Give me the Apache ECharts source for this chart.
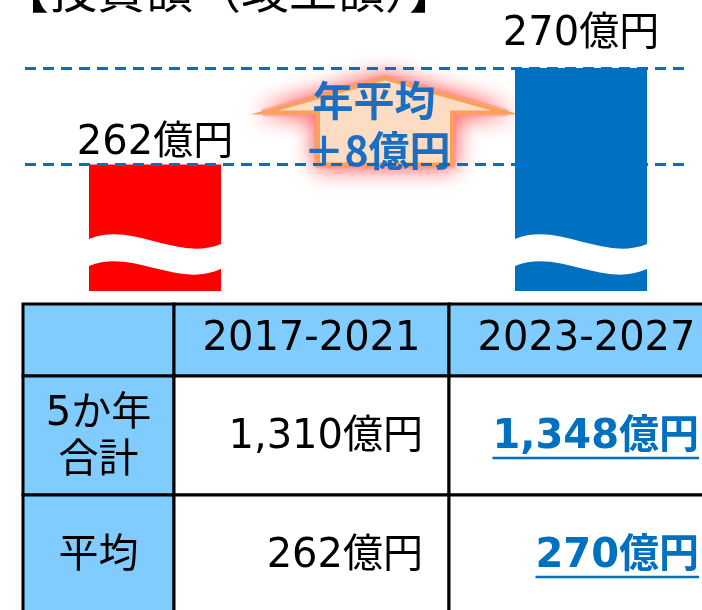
<!DOCTYPE html>
<html>
<head>
<meta charset="utf-8">
<script src="https://cdn.jsdelivr.net/npm/echarts@6/dist/echarts.min.js"></script>
<style>
  html, body { margin: 0; padding: 0; background: #fff; }
  #chart { width: 702px; height: 610px; }
</style>
</head>
<body>
<div id="chart"></div>
<script>
// chart data
const titleText = '【投資額（竣工額）】';
const periods = ['2017-2021', '', '2023-2027'];
const averages = [262, '-', 270];
const barLabels = ['262億円', '', '270億円'];
const arrowLines = ['年平均', '＋8億円'];

// table data
const tableHeader = ['', '2017-2021', '2023-2027'];
const rowLabels = [['5か年', '合計'], ['平均']];
const pastValues = ['1,310億円', '262億円'];
const futureValues = ['1,348億円', '270億円'];

const BLUE = '#0070C0';
const barColors = ['#FF0000', null, BLUE];
const labelGap = [1, 0, 13];
const FONT = '"DejaVu Sans", "Noto Sans CJK JP", sans-serif';
const CJK = '"Noto Sans CJK JP", sans-serif';
const Y_MIN = 251.5;
const Y_MAX = 270;
const BAR_W = 132;

const chart = echarts.init(document.getElementById('chart'));

// wavy white band near the bottom of each bar (broken axis marker)
function renderWave(params, api) {
  const base = api.coord([api.value(0), Y_MIN]);
  const x0 = base[0] - BAR_W / 2;
  const yb = base[1];
  const w = BAR_W;
  const p = (dx, dy) => (x0 + dx).toFixed(1) + ' ' + (yb + dy).toFixed(1);
  const d = 'M' + p(0, -52) +
    ' C' + p(w / 3, -70) + ' ' + p(2 * w / 3, -29) + ' ' + p(w, -47) +
    ' L' + p(w, -22) +
    ' C' + p(2 * w / 3, -2) + ' ' + p(w / 3, -43) + ' ' + p(0, -25) + ' Z';
  return { type: 'path', shape: { pathData: d }, style: { fill: '#fff' } };
}

// up arrow with "年平均 +8億円"
function renderArrow(params, api) {
  const base = api.coord([api.value(0), api.value(1)]);
  const cx = base[0] + 17;
  const by = base[1];
  const pts = [
    [cx - 67, by], [cx - 67, by - 52], [cx - 120, by - 52], [cx, by - 86],
    [cx + 120, by - 52], [cx + 67, by - 52], [cx + 67, by]
  ];
  const textStyle = {
    fill: '#1B6EC2', fontSize: 41, fontWeight: 'bold', fontFamily: CJK,
    align: 'center', verticalAlign: 'middle'
  };
  return {
    type: 'group',
    children: [
      {
        type: 'polygon',
        shape: { points: pts },
        style: {
          fill: '#FF9090', stroke: 'rgba(255,140,140,0.55)', lineWidth: 8,
          lineJoin: 'round', shadowBlur: 22, shadowColor: 'rgba(255,60,60,1)'
        }
      },
      {
        type: 'polygon',
        shape: { points: pts },
        style: { fill: '#FDDCC4', stroke: '#F9A15A', lineWidth: 4 }
      },
      { type: 'text', x: cx - 11, y: by - 64, style: Object.assign({ text: arrowLines[0] }, textStyle) },
      { type: 'text', x: cx - 8, y: by - 14, style: Object.assign({ text: arrowLines[1] }, textStyle) }
    ]
  };
}

// table built with graphic elements
const colX = [23, 174, 449, 724];
const rowY = [304, 376, 495, 624];
const HEAD_FILL = '#80CCFF';
const measure = document.createElement('canvas').getContext('2d');
const tableGraphics = [];

for (let r = 0; r < 3; r++) {
  for (let c = 0; c < 3; c++) {
    tableGraphics.push({
      type: 'rect',
      shape: { x: colX[c], y: rowY[r], width: colX[c + 1] - colX[c], height: rowY[r + 1] - rowY[r] },
      style: { fill: (r === 0 || c === 0) ? HEAD_FILL : '#fff', stroke: '#000', lineWidth: 3 },
      z: 10
    });
  }
}
tableHeader.forEach((t, c) => {
  if (!t) return;
  tableGraphics.push({
    type: 'text', x: (colX[c] + colX[c + 1]) / 2, y: 340, z: 11,
    style: { text: t, fill: '#000', fontSize: 40, fontFamily: FONT, align: 'center', verticalAlign: 'middle' }
  });
});
const rowMid = [438, 557];
rowLabels.forEach((lines, i) => {
  tableGraphics.push({
    type: 'text', x: (colX[0] + colX[1]) / 2, y: rowMid[i], z: 11,
    style: {
      text: lines.join('\n'), fill: '#000', fontSize: 40, lineHeight: 47,
      fontFamily: FONT, align: 'center', verticalAlign: 'middle'
    }
  });
  tableGraphics.push({
    type: 'text', x: 423, y: rowMid[i], z: 11,
    style: { text: pastValues[i], fill: '#000', fontSize: 40, fontFamily: FONT, align: 'right', verticalAlign: 'middle' }
  });
  tableGraphics.push({
    type: 'text', x: 699, y: rowMid[i], z: 11,
    style: {
      text: futureValues[i], fill: BLUE, fontSize: 40, fontWeight: 'bold',
      fontFamily: FONT, align: 'right', verticalAlign: 'middle'
    }
  });
  measure.font = 'bold 40px ' + FONT;
  const tw = measure.measureText(futureValues[i]).width;
  tableGraphics.push({
    type: 'line', z: 11,
    shape: { x1: 699 - tw, y1: rowMid[i] + 20, x2: 699, y2: rowMid[i] + 20 },
    style: { stroke: BLUE, lineWidth: 2.5 }
  });
});

const option = {
  backgroundColor: '#fff',
  animation: false,
  grid: [
    { left: 48.5, right: 14.5, top: 68, bottom: 319 },
    { left: 25, right: 14, top: 68, bottom: 319 }
  ],
  xAxis: [
    { type: 'category', data: periods, gridIndex: 0, show: false },
    { type: 'value', gridIndex: 1, min: 0, max: 1, show: false }
  ],
  yAxis: [
    { type: 'value', gridIndex: 0, min: Y_MIN, max: Y_MAX, show: false },
    { type: 'value', gridIndex: 1, min: Y_MIN, max: Y_MAX, show: false }
  ],
  graphic: [
    {
      type: 'text', x: 1, y: -10, z: 11,
      style: { text: titleText, fill: '#000', fontSize: 48, fontFamily: CJK, verticalAlign: 'middle' }
    }
  ].concat(tableGraphics),
  series: [
    {
      type: 'custom',
      xAxisIndex: 0, yAxisIndex: 0,
      z: 1,
      data: [[1, averages[0]]],
      renderItem: renderArrow
    },
    {
      type: 'bar',
      xAxisIndex: 0, yAxisIndex: 0,
      barWidth: BAR_W,
      z: 2,
      data: averages.map((v, i) => v === '-' ? '-' : {
        value: v,
        itemStyle: { color: barColors[i] },
        label: {
          show: true, position: 'top', distance: labelGap[i],
          formatter: barLabels[i], color: '#000', fontSize: 40, fontFamily: FONT
        }
      })
    },
    {
      type: 'custom',
      xAxisIndex: 0, yAxisIndex: 0,
      z: 3,
      data: averages.map((v, i) => [i, v]).filter(d => d[1] !== '-'),
      renderItem: renderWave
    },
    {
      type: 'line',
      xAxisIndex: 1, yAxisIndex: 1,
      data: [],
      z: 5,
      markLine: {
        silent: true,
        symbol: 'none',
        label: { show: false },
        lineStyle: { color: BLUE, width: 3, type: [11, 7] },
        data: averages.filter(v => v !== '-').map(v => ({ yAxis: v }))
      }
    }
  ]
};

chart.setOption(option);
</script>
</body>
</html>
